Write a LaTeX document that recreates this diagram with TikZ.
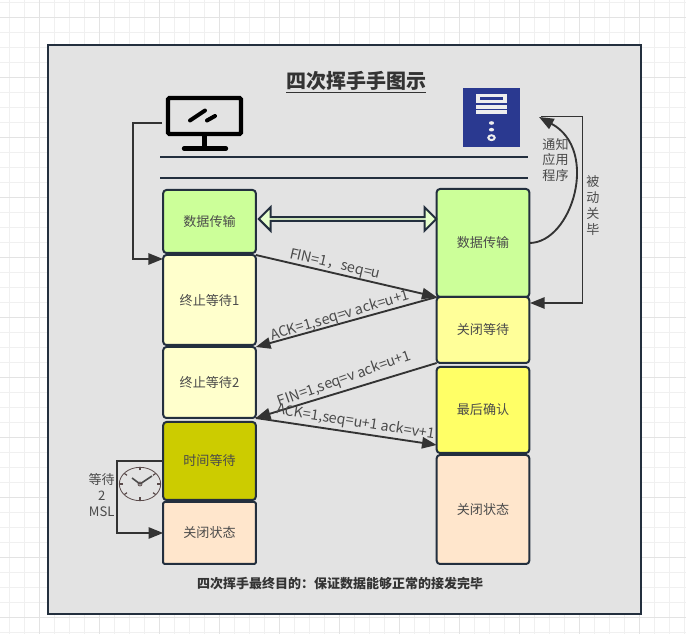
\documentclass[tikz,border=0pt]{standalone}
\usepackage{fontspec}
\setmainfont{Noto Sans CJK SC}
\usetikzlibrary{arrows.meta,calc,shapes.arrows,shapes.geometric}
\definecolor{inkline}{HTML}{232F3E}
\definecolor{wire}{HTML}{333333}
\definecolor{label}{HTML}{4A4A4A}
\definecolor{panel}{HTML}{E3E3E3}
\definecolor{navy}{HTML}{2A3990}
\definecolor{dial}{HTML}{5A4A4A}
\definecolor{iconpale}{HTML}{EEEEEE}
\tikzset{
  phase/.style={draw=inkline,line width=1.5pt,rounded corners=2.5pt,inner sep=0pt,outer sep=0pt,
    text=label,font=\fontsize{9.8pt}{11pt}\selectfont,minimum width=69.5pt},
  wirearrow/.style={draw=wire,line width=1.4pt,-{Triangle[length=11pt,width=8.5pt]}},
  rail/.style={draw=inkline,line width=1.4pt},
  msg/.style={text=label,font=\fontsize{10.7pt}{12pt}\selectfont,inner sep=0pt},
  note/.style={text=label,font=\fontsize{9.8pt}{12pt}\selectfont,inner sep=0pt,align=center},
  clockline/.style={draw=dial,line width=0.6pt}
}
\begin{document}
\begin{tikzpicture}[x=0.75pt,y=-0.75pt]
\useasboundingbox (0,0) rectangle (686,634);
% sheet grid
\fill[white] (0,0) rectangle (686,634);
\foreach \gx in {9.5,24.5,...,685}{\draw[draw=black!6,line width=0.75pt] (\gx,0) -- (\gx,634);}
\foreach \gy in {2.5,17.5,...,633}{\draw[draw=black!6,line width=0.75pt] (0,\gy) -- (686,\gy);}
\foreach \gx in {39.5,99.5,...,685}{\draw[draw=black!11,line width=0.75pt] (\gx,0) -- (\gx,634);}
\foreach \gy in {17.5,77.5,...,633}{\draw[draw=black!11,line width=0.75pt] (0,\gy) -- (686,\gy);}
% outer panel
\draw[draw=inkline,fill=panel,line width=1.5pt] (48,45) rectangle (641,614);
% headings
\node[text=wire,font=\bfseries\fontsize{15pt}{18pt}\selectfont,inner sep=0pt] (title) at (356,82) {\underline{四次挥手手图示}};
\node[text=wire,font=\bfseries\fontsize{9.75pt}{12pt}\selectfont,inner sep=0pt] (summary) at (340,584) {四次挥手最终目的：保证数据能够正常的接发完毕};
% workstation icon
\node[minimum width=63.75pt,minimum height=46.5pt,inner sep=0pt,outer sep=0pt] (monitor) at (204.5,123) {};
\draw[black,line width=3.2pt,rounded corners=1pt] (168,98) rectangle (241,134);
\draw[black,line width=3.2pt] (204.5,136) -- (204.5,148);
\draw[black,line width=3.2pt,line cap=round] (184,148.5) -- (226,148.5);
\draw[black,line width=3pt,line cap=round] (190,120.5) -- (205,110.5);
\draw[black,line width=3pt,line cap=round] (207,120.5) -- (215,116);
% server icon
\node[fill=navy,minimum width=42.75pt,minimum height=44.25pt,inner sep=0pt,outer sep=0pt] (server) at (491.5,117.5) {};
\fill[iconpale] (476,94) rectangle (507,103);
\fill[navy] (480,97.3) rectangle (503,99.8);
\fill[iconpale] (476,104.7) rectangle (507,108.7);
\fill[iconpale] (476,110.3) rectangle (507,114);
\fill[iconpale] (491.5,123) ellipse (2.6 and 1.8);
\fill[iconpale] (491.5,129.7) ellipse (2.6 and 1.8);
\draw[iconpale,line width=1.5pt] (491.5,137.7) ellipse (3.2 and 2.4);
% horizontal rails
\coordinate (railAa) at (160,157);
\coordinate (railAb) at (528,157);
\coordinate (railBa) at (160,178);
\coordinate (railBb) at (528,178);
\draw[rail] (railAa) -- (railAb);
\draw[rail] (railBa) -- (railBb);
% client states
\node[phase,fill={rgb,255:red,204;green,255;blue,153},minimum height=47.25pt] (w0) at (209.5,221.5) {数据传输};
\node[phase,fill={rgb,255:red,255;green,255;blue,204},minimum height=67.5pt] (w1) at (209.5,300) {终止等待1};
\node[phase,fill={rgb,255:red,255;green,255;blue,204},minimum height=53.25pt] (w2) at (209.5,382.5) {终止等待2};
\node[phase,fill={rgb,255:red,204;green,204;blue,0},minimum height=58.5pt] (w3) at (209.5,461) {时间等待};
\node[phase,fill={rgb,255:red,255;green,230;blue,204},rounded corners=1pt,minimum height=46.5pt] (w4) at (209.5,533) {关闭状态};
% server states
\node[phase,fill={rgb,255:red,204;green,255;blue,153},minimum height=81pt] (r0) at (483,243) {数据传输};
\node[phase,fill={rgb,255:red,255;green,255;blue,153},minimum height=49.5pt] (r1) at (483,330) {关闭等待};
\node[phase,fill={rgb,255:red,255;green,255;blue,102},minimum height=64.5pt] (r2) at (483,410) {最后确认};
\node[phase,fill={rgb,255:red,255;green,230;blue,204},minimum height=81.75pt] (r3) at (483,509.5) {关闭状态};
% two-way data link
\node[double arrow,draw=inkline,line width=1.5pt,fill={rgb,255:red,230;green,255;blue,204},
  minimum width=17.5pt,minimum height=133pt,double arrow head extend=4pt,
  double arrow head indent=0pt,inner sep=0pt,outer sep=0pt] (sync) at (347.5,219) {};
% handshake messages
\draw[wirearrow] (w1.north east) -- (r1.north west);
\draw[wirearrow] (r1.north west) -- (w2.north east);
\draw[wirearrow] (r1.south west) -- (w2.south east);
\draw[wirearrow] (w2.south east) -- ($(r2.south west)+(0,-8)$);
\node[msg,rotate=-13] (m1) at (335,265) {FIN=1，seq=u};
\node[msg,rotate=16.5] (m2) at (340,316) {ACK=1,seq=v ack=u+1};
\node[msg,rotate=19.5] (m3) at (344.5,379) {FIN=1,seq=v ack=u+1};
\node[msg,rotate=-9] (m4) at (355.7,422.5) {ACK=1,seq=u+1 ack=v+1};
% workstation link to the first wait state
\coordinate (wentry) at (163,259);
\draw[wirearrow] (monitor.west) -| (133,259) -- (wentry);
% server-side notification and passive close
\coordinate (notifyend) at (539,117);
\coordinate (closebegin) at (541,116.5);
\coordinate (closeend) at (530,303);
\draw[wirearrow] (r0.east) .. controls (572,243) and (600,150) .. (notifyend);
\draw[wirearrow] (closebegin) -- (582.5,116.5) -- (582.5,303) -- (closeend);
\node[note,text width=30pt] (notify) at (555.5,160) {通知\\[-0.6pt]应用\\[-0.6pt]程序};
\node[note,text width=14pt] (passive) at (593,205.5) {被\\动\\关\\毕};
% timed wait
\draw[wirearrow] (w3.west) -- (117,461) |- (w4.west);
\node[note,text width=32pt] (msl) at (101.7,495) {等待\\2\\MSL};
% clock
\node[draw=dial,line width=0.6pt,ellipse,minimum width=31pt,minimum height=25pt,inner sep=0pt,outer sep=0pt] (clockface) at (140,484) {};
\foreach \ca in {0,40,90,140,180,220,270,320}{
  \draw[clockline,line width=0.9pt] ($(clockface.center)+({17*cos(\ca)},{13.5*sin(\ca)})$) -- ($(clockface.center)+({20.5*cos(\ca)},{16.5*sin(\ca)})$);}
\draw[black!70,line width=1.2pt] (clockface.center) -- +(-8,-6);
\draw[black!70,line width=1.2pt] (clockface.center) -- +(12,-8);
\draw[clockline] (clockface.center) circle (2);
\end{tikzpicture}
\end{document}
